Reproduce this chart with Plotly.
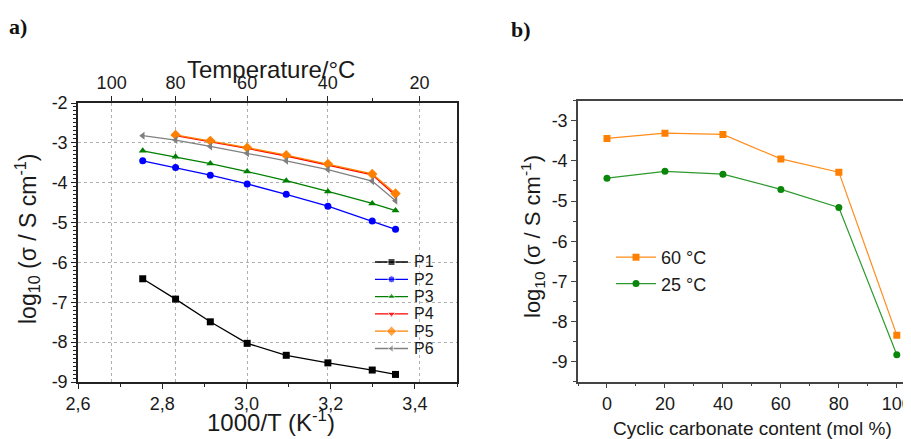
import plotly.graph_objects as go

# ---------------- data: panel a ----------------
temps_c = [90, 80, 70, 60, 50, 40, 30, 25]
inv_T = [round(1000.0 / (t + 273.15), 4) for t in temps_c]

p1 = [-6.41, -6.92, -7.49, -8.03, -8.33, -8.52, -8.70, -8.81]
p2 = [-3.45, -3.62, -3.81, -4.03, -4.29, -4.59, -4.96, -5.17]
p3 = [-3.20, -3.35, -3.52, -3.72, -3.95, -4.22, -4.52, -4.70]
p4 = [None, -2.82, -2.97, -3.14, -3.33, -3.55, -3.80, -4.32]
p5 = [None, -2.80, -2.95, -3.12, -3.31, -3.53, -3.78, -4.27]
p6 = [-2.82, -2.93, -3.09, -3.26, -3.45, -3.67, -3.96, -4.45]

series_names_a = ["P1", "P2", "P3", "P4", "P5", "P6"]
series_vals_a = [p1, p2, p3, p4, p5, p6]
colors_a = ["#000000", "#0000ff", "#008000", "#ff0000", "#ff8000", "#808080"]
symbols_a = ["square", "circle", "triangle-up", "triangle-down", "diamond", "triangle-left"]

top_temp_major = [100, 80, 60, 40, 20]
top_temp_minor = [90, 70, 50, 30]
x_ticks_a = [2.6, 2.8, 3.0, 3.2, 3.4]
x_ticktext_a = ["2,6", "2,8", "3,0", "3,2", "3,4"]
y_ticks_a = [-2, -3, -4, -5, -6, -7, -8, -9]

# ---------------- data: panel b ----------------
content = [0, 20, 40, 60, 80, 100]
s60 = [-3.44, -3.31, -3.34, -3.95, -4.28, -8.34]
s25 = [-4.43, -4.26, -4.33, -4.71, -5.16, -8.83]
y_ticks_b = [-3, -4, -5, -6, -7, -8, -9]
x_ticks_b = [0, 20, 40, 60, 80, 100]

# page body has an 8px margin: the figure starts at (8, 8) in the window
WIN_W, WIN_H, OFF = 911, 439, 8
W, H = WIN_W - OFF, WIN_H - OFF
FONT = "Liberation Sans, Arial, sans-serif"
SERIF = "Liberation Serif, Times New Roman, serif"
TXT = "#1a1a1a"


def px_x(p):
    return (p - OFF) / W


def px_y(p):
    return 1 - (p - OFF) / H


fig = go.Figure()

for name, ys, col, sym in zip(series_names_a, series_vals_a, colors_a, symbols_a):
    fig.add_trace(go.Scatter(
        x=inv_T, y=ys, name=name, mode="lines+markers",
        line=dict(color=col, width=1.3),
        marker=dict(symbol=sym, size=8 if sym == "diamond" else 7, color=col),
        xaxis="x", yaxis="y", showlegend=False, connectgaps=False,
    ))

# invisible trace to keep top axis alive
fig.add_trace(go.Scatter(x=[inv_T[0]], y=[p1[0]], xaxis="x3", yaxis="y",
                         mode="markers", marker=dict(opacity=0), showlegend=False,
                         hoverinfo="skip"))

# manual legend for panel a (full-figure overlay axes in window pixels)
leg_x0, leg_x1, leg_y0, leg_dy = 375, 408, 262, 17.3
annotations = []
for i, (name, col, sym) in enumerate(zip(series_names_a, colors_a, symbols_a)):
    yy = leg_y0 + i * leg_dy
    fig.add_trace(go.Scatter(
        x=[leg_x0, (leg_x0 + leg_x1) / 2, leg_x1], y=[yy, yy, yy],
        mode="lines+markers", line=dict(color=col, width=1.3),
        marker=dict(symbol=sym, size=[0, 8 if sym == "diamond" else 7, 0], color=col),
        xaxis="x4", yaxis="y4", showlegend=False, hoverinfo="skip",
    ))
    annotations.append(dict(text=name, x=px_x(leg_x1 + 4), y=px_y(yy),
                            xanchor="left", yanchor="middle",
                            font=dict(family=FONT, size=16, color=TXT)))

fig.add_trace(go.Scatter(
    x=content, y=s60, name="60 °C", mode="lines+markers",
    line=dict(color="#ff8c1a", width=1.2),
    marker=dict(symbol="square", size=7, color="#ff7f00"),
    xaxis="x2", yaxis="y2", legend="legend2",
))
fig.add_trace(go.Scatter(
    x=content, y=s25, name="25 °C", mode="lines+markers",
    line=dict(color="#2e9a2e", width=1.2),
    marker=dict(symbol="circle", size=7, color="#0a870a"),
    xaxis="x2", yaxis="y2", legend="legend2",
))

grid_style = dict(gridcolor="#b0b0b0", griddash="dot", gridwidth=1)
tickfont = dict(family=FONT, size=18, color=TXT)
common = dict(automargin=False, zeroline=False, tickfont=tickfont, ticklabeloverflow="allow")

fig.update_layout(
    template="none",
    width=W, height=H, autosize=False,
    margin=dict(l=0, r=0, t=0, b=0, pad=0),
    paper_bgcolor="white", plot_bgcolor="rgba(0,0,0,0)",
    font=dict(family=FONT, color=TXT),
    xaxis=dict(
        domain=[px_x(78), px_x(457)], range=[2.6, 3.5], anchor="y",
        tickmode="array", tickvals=x_ticks_a, ticktext=x_ticktext_a,
        ticks="outside", ticklen=5, tickwidth=1.3, tickcolor="#222",
        minor=dict(tickmode="array", tickvals=[2.7, 2.9, 3.1, 3.3, 3.5],
                   ticks="outside", ticklen=3, tickcolor="#222"),
        showline=True, linecolor="#222", linewidth=1.5, mirror=False,
        showgrid=False, **common,
    ),
    xaxis3=dict(
        overlaying="x", side="top", anchor="y", range=[2.6, 3.5],
        tickmode="array",
        tickvals=[1000.0 / (t + 273.15) for t in top_temp_major],
        ticktext=[str(t) for t in top_temp_major],
        ticks="outside", ticklen=5, tickwidth=1.3, tickcolor="#222",
        minor=dict(tickmode="array",
                   tickvals=[1000.0 / (t + 273.15) for t in top_temp_minor],
                   ticks="outside", ticklen=3, tickcolor="#222"),
        showline=True, linecolor="#222", linewidth=1.5,
        showgrid=True, **grid_style, **common,
    ),
    yaxis=dict(
        domain=[px_y(382), px_y(103)], range=[-9, -2], anchor="x",
        tickmode="array", tickvals=y_ticks_a, ticktext=[str(v) for v in y_ticks_a],
        ticks="outside", ticklen=5, tickwidth=1.3, tickcolor="#222",
        minor=dict(dtick=0.1, tick0=-9, ticks="outside", ticklen=3, tickcolor="#222"),
        showline=True, linecolor="#222", linewidth=1.5, mirror=True,
        showgrid=True, **grid_style, **common,
    ),
    xaxis4=dict(domain=[0, 1], range=[OFF, WIN_W], anchor="y4", visible=False,
                automargin=False, fixedrange=True),
    yaxis4=dict(domain=[0, 1], range=[WIN_H, OFF], anchor="x4", visible=False,
                automargin=False, fixedrange=True),
    xaxis2=dict(
        domain=[px_x(578), 1.0], range=[-10, 104.9], anchor="y2",
        tickmode="array", tickvals=x_ticks_b, ticktext=[str(v) for v in x_ticks_b],
        ticks="outside", ticklen=5, tickwidth=1.3, tickcolor="#444",
        minor=dict(dtick=10, tick0=0, ticks="outside", ticklen=3, tickcolor="#444"),
        showline=True, linecolor="#444", linewidth=1.5, mirror=True,
        showgrid=False, **common,
    ),
    yaxis2=dict(
        domain=[px_y(381.7), px_y(100.7)], range=[-9.5, -2.5], anchor="x2",
        tickmode="array", tickvals=y_ticks_b, ticktext=[str(v) for v in y_ticks_b],
        ticks="outside", ticklen=5, tickwidth=1.3, tickcolor="#444",
        minor=dict(dtick=0.5, tick0=-9.5, ticks="outside", ticklen=3, tickcolor="#444"),
        showline=True, linecolor="#444", linewidth=1.5, mirror=False,
        showgrid=False, **common,
    ),
    legend2=dict(
        x=px_x(611), y=px_y(239), xanchor="left", yanchor="top",
        bgcolor="rgba(0,0,0,0)", borderwidth=0,
        font=dict(family=FONT, size=18, color=TXT),
        tracegroupgap=0, itemwidth=40,
    ),
    showlegend=True,
)

annotations += [
    dict(text="<b>a)</b>", x=px_x(7), y=px_y(27), xanchor="left", yanchor="middle",
         font=dict(family=SERIF, size=22, color="#111")),
    dict(text="<b>b)</b>", x=px_x(509), y=px_y(29), xanchor="left", yanchor="middle",
         font=dict(family=SERIF, size=22, color="#111")),
    dict(text="Temperature/°C", x=px_x(271), y=px_y(69), xanchor="center", yanchor="middle",
         font=dict(family=FONT, size=24, color=TXT)),
    dict(text="1000/T (K<sup>-1</sup>)", x=px_x(271), y=px_y(421), xanchor="center",
         yanchor="middle", font=dict(family=FONT, size=24, color=TXT)),
    dict(text="log<sub>10</sub> (σ / S cm<sup>-1</sup>)", x=px_x(27), y=px_y(239),
         xanchor="center", yanchor="middle", textangle=-90,
         font=dict(family=FONT, size=23, color=TXT)),
    dict(text="log<sub>10</sub> (σ / S cm<sup>-1</sup>)", x=px_x(532), y=px_y(237),
         xanchor="center", yanchor="middle", textangle=-90,
         font=dict(family=FONT, size=22, color=TXT)),
    dict(text="Cyclic carbonate content (mol %)", x=px_x(752), y=px_y(428),
         xanchor="center", yanchor="middle", font=dict(family=FONT, size=19, color=TXT)),
]
for a in annotations:
    a.setdefault("xref", "paper")
    a.setdefault("yref", "paper")
    a["showarrow"] = False
fig.update_layout(annotations=annotations)

fig.write_html("out.html")
